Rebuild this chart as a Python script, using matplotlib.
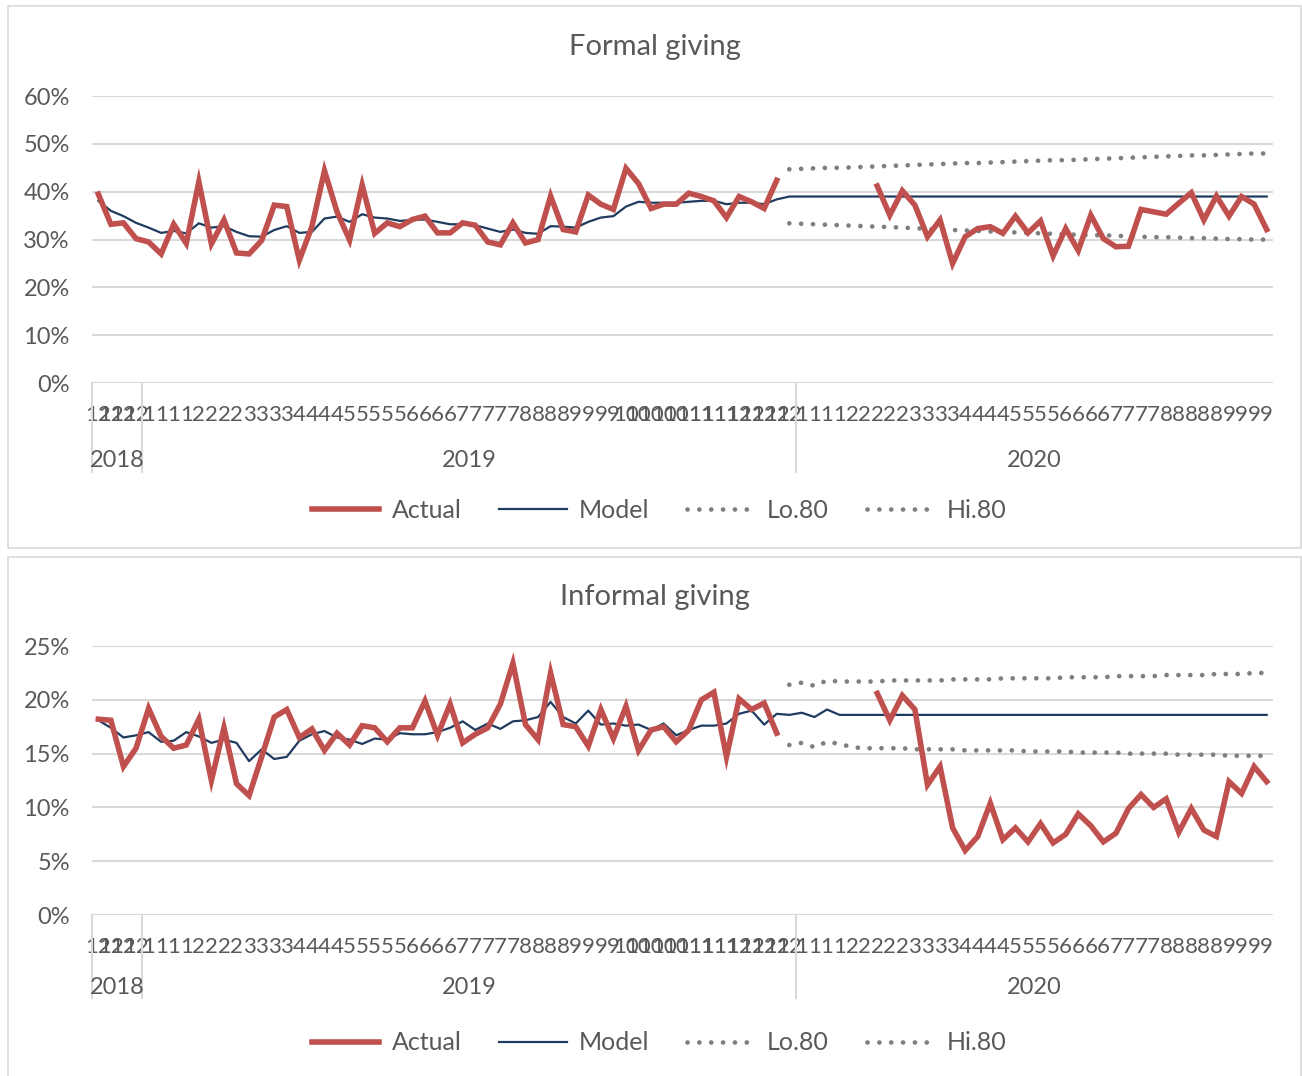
import matplotlib
matplotlib.use("Agg")
import matplotlib.pyplot as plt
from matplotlib.patches import Rectangle
from matplotlib.lines import Line2D
import numpy as np

plt.rcParams['font.family'] = ['Lato', 'DejaVu Sans']

# week labels (month of each week) and the years they fall in
months_2018 = ['12'] * 4
months_2019 = (['1'] * 4 + ['2'] * 4 + ['3'] * 4 + ['4'] * 4 + ['5'] * 5 + ['6'] * 4 +
               ['7'] * 5 + ['8'] * 4 + ['9'] * 4 + ['10'] * 5 + ['11'] * 4 + ['12'] * 5)
months_2020 = (['1'] * 4 + ['2'] * 5 + ['3'] * 4 + ['4'] * 4 + ['5'] * 4 + ['6'] * 4 +
               ['7'] * 4 + ['8'] * 5 + ['9'] * 4)
years = ['2018', '2019', '2020']

# formal giving (% of people), weekly
formal_actual_a = [39.5, 33.2, 33.5, 30.2, 29.5, 27.0, 33.2, 29.2, 42.1, 29.1,
                   34.1, 27.2, 27.0, 29.8, 37.2, 36.9, 25.7, 32.7, 44.4, 35.8,
                   29.9, 41.4, 31.3, 33.5, 32.7, 34.2, 34.9, 31.4, 31.4, 33.5,
                   33.0, 29.5, 28.9, 33.5, 29.3, 30.0, 39.1, 32.1, 31.6, 39.3,
                   37.4, 36.3, 44.9, 41.7, 36.5, 37.4, 37.4, 39.7, 39.0, 38.1,
                   34.6, 39.0, 37.9, 36.5, 42.4]
formal_actual_b = [41.2, 35.1, 40.2, 37.2, 30.6, 34.1, 25.0, 30.6, 32.3, 32.7,
                   31.3, 34.9, 31.4, 33.9, 26.6, 32.3, 27.7, 35.1, 30.2, 28.5,
                   28.6, 36.3, 35.8, 35.3, 37.6, 39.8, 34.1, 39.1, 34.9, 39.0,
                   37.4, 32.1]
formal_model = [38.1, 36.0, 34.9, 33.5, 32.5, 31.4, 31.8, 31.3, 33.4, 32.5,
                32.8, 31.6, 30.7, 30.6, 32.0, 32.8, 31.4, 31.6, 34.4, 34.8,
                33.7, 35.3, 34.6, 34.4, 33.9, 34.1, 34.2, 33.7, 33.2, 33.2,
                33.0, 32.3, 31.6, 32.1, 31.4, 31.2, 32.8, 32.7, 32.5, 33.7,
                34.6, 34.9, 36.9, 37.9, 37.7, 37.7, 37.7, 37.9, 38.1, 38.1,
                37.4, 37.7, 37.7, 37.4, 38.4] + [39.0] * 39
formal_lo80 = [33.4, 33.3, 33.2, 33.1, 33.0, 32.9, 32.8, 32.7, 32.6, 32.5,
               32.4, 32.2, 32.1, 32.0, 31.9, 31.8, 31.7, 31.6, 31.5, 31.4,
               31.3, 31.2, 31.1, 31.0, 30.9, 30.9, 30.8, 30.7, 30.6, 30.5,
               30.5, 30.4, 30.3, 30.3, 30.2, 30.1, 30.1, 30.0, 30.0]
formal_hi80 = [44.7, 44.8, 44.9, 45.0, 45.0, 45.1, 45.2, 45.3, 45.4, 45.5,
               45.6, 45.7, 45.8, 45.9, 46.0, 46.0, 46.1, 46.2, 46.3, 46.4,
               46.5, 46.6, 46.6, 46.7, 46.8, 46.9, 47.0, 47.1, 47.2, 47.3,
               47.4, 47.5, 47.6, 47.6, 47.7, 47.8, 47.9, 48.0, 48.0]

# informal giving (% of people), weekly
informal_actual_a = [18.2, 18.1, 13.8, 15.5, 19.2, 16.6, 15.5, 15.8, 18.2, 12.5,
                     17.4, 12.2, 11.1, 14.7, 18.4, 19.1, 16.5, 17.3, 15.3, 16.9,
                     15.8, 17.6, 17.4, 16.1, 17.4, 17.4, 19.9, 16.7, 19.6, 16.0,
                     16.8, 17.4, 19.6, 23.4, 17.7, 16.3, 22.5, 17.7, 17.5, 15.7,
                     19.1, 16.4, 19.4, 15.3, 17.2, 17.5, 16.1, 17.2, 20.0, 20.7,
                     14.7, 20.1, 19.1, 19.7, 16.9]
informal_actual_b = [20.6, 18.1, 20.4, 19.1, 12.1, 13.8, 8.1, 6.0, 7.3, 10.4,
                     7.0, 8.1, 6.8, 8.5, 6.7, 7.5, 9.4, 8.3, 6.8, 7.6,
                     9.9, 11.2, 10.0, 10.8, 7.7, 9.9, 7.9, 7.3, 12.4, 11.3,
                     13.8, 12.4]
informal_model = [18.1, 17.4, 16.5, 16.7, 17.0, 16.1, 16.2, 17.0, 16.6, 16.0,
                  16.3, 16.0, 14.3, 15.4, 14.5, 14.7, 16.2, 16.8, 17.1, 16.5,
                  16.3, 15.9, 16.4, 16.3, 16.9, 16.8, 16.8, 17.0, 17.4, 18.0,
                  17.2, 17.8, 17.3, 18.0, 18.1, 18.4, 19.8, 18.4, 17.8, 19.0,
                  17.7, 17.8, 17.6, 17.7, 17.2, 17.8, 16.7, 17.2, 17.6, 17.6,
                  17.8, 18.7, 19.0, 17.7, 18.7, 18.6, 18.8, 18.4, 19.1, 18.6] + [18.6] * 34
informal_lo80 = [15.8, 16.0, 15.6, 16.1, 15.9, 15.6, 15.5, 15.5, 15.5, 15.5,
                 15.4, 15.4, 15.4, 15.4, 15.3, 15.3, 15.3, 15.3, 15.3, 15.2,
                 15.2, 15.2, 15.2, 15.1, 15.1, 15.1, 15.1, 15.0, 15.0, 15.0,
                 15.0, 14.9, 14.9, 14.9, 14.9, 14.8, 14.8, 14.8, 14.8]
informal_hi80 = [21.4, 21.6, 21.3, 21.8, 21.7, 21.7, 21.7, 21.7, 21.8, 21.8,
                 21.8, 21.8, 21.8, 21.9, 21.9, 21.9, 21.9, 22.0, 22.0, 22.0,
                 22.0, 22.0, 22.1, 22.1, 22.1, 22.1, 22.2, 22.2, 22.2, 22.2,
                 22.3, 22.3, 22.3, 22.3, 22.4, 22.4, 22.4, 22.5, 22.5]

RED = '#C0504D'
NAVY = '#1F3B5F'
DOTS = '#7F7F7F'
GRID = '#D9D9D9'
TXT = '#595959'

labels = months_2018 + months_2019 + months_2020
n = len(labels)
x = np.arange(n)


def series(first, second):
    # actual values: history, missing weeks, then the new weeks
    missing = n - len(first) - len(second)
    return np.array(first + [np.nan] * missing + second, dtype=float)


def band(values):
    # forecast bounds only exist for the last weeks
    return np.array([np.nan] * (n - len(values)) + values, dtype=float)


def draw_panel(fig, rect, title, title_y, actual, model, lo, hi, ymax, ystep, box, legend_y):
    fig.patches.append(Rectangle((box[0], box[1]), box[2], box[3], transform=fig.transFigure,
                                 fill=False, edgecolor=GRID, lw=1.2))
    ax = fig.add_axes(rect)
    ax.plot(x, actual, color=RED, lw=4.0, solid_joinstyle='miter', label='Actual', zorder=4)
    ax.plot(x, model, color=NAVY, lw=1.6, label='Model', zorder=3)
    dotted = dict(color=DOTS, lw=3.4, linestyle=(0, (0.01, 2.5)), dash_capstyle='round', zorder=2)
    ax.plot(x, band(lo), label='Lo.80', **dotted)
    ax.plot(x, band(hi), label='Hi.80', **dotted)

    ax.set_xlim(-0.5, n - 0.5)
    ax.set_ylim(0, ymax)
    yt = np.arange(0, ymax + 0.1, ystep)
    ax.set_yticks(yt)
    ax.set_yticklabels(['%d%%' % v for v in yt])
    ax.set_xticks(x)
    ax.set_xticklabels(labels)
    ax.tick_params(axis='both', length=0, labelsize=16, labelcolor=TXT)
    ax.tick_params(axis='y', pad=16, labelsize=17)
    ax.tick_params(axis='x', pad=16)
    ax.grid(axis='y', color=GRID, lw=1.5)
    ax.set_axisbelow(True)
    for s in ax.spines.values():
        s.set_visible(False)
    fig.text(655 / 1302, title_y, title, ha='center', va='center', fontsize=21, color=TXT)

    # year row below the month labels, split by tick lines
    counts = [len(months_2018), len(months_2019), len(months_2020)]
    edges = np.concatenate([[0], np.cumsum(counts)]) - 0.5
    for e in edges[:-1]:
        ax.add_line(Line2D([e, e], [0, -0.31], transform=ax.get_xaxis_transform(),
                           color=GRID, lw=1.5, clip_on=False))
    for yr, a, b in zip(years, edges[:-1], edges[1:]):
        ax.text((a + b) / 2, -0.27, yr, transform=ax.get_xaxis_transform(),
                ha='center', va='center', fontsize=17, color=TXT)

    ax.legend(loc='center', bbox_to_anchor=(659 / 1302, legend_y), bbox_transform=fig.transFigure,
              ncol=4, frameon=False, fontsize=18, labelcolor=TXT, handlelength=2.7,
              handletextpad=0.5, columnspacing=1.5)
    return ax


fig = plt.figure(figsize=(13.02, 10.76), dpi=100)
draw_panel(fig, [0.0707, 0.644, 0.907, 0.2667], 'Formal giving', 1 - 47 / 1076,
           series(formal_actual_a, formal_actual_b), formal_model,
           formal_lo80, formal_hi80, 60, 10, (0.006, 0.491, 0.993, 0.503), 0.526)
draw_panel(fig, [0.0707, 0.1496, 0.907, 0.25], 'Informal giving', 1 - 597 / 1076,
           series(informal_actual_a, informal_actual_b), informal_model,
           informal_lo80, informal_hi80, 25, 5, (0.006, -0.01, 0.993, 0.492), 0.0307)
fig.savefig('out.png', dpi=100)
